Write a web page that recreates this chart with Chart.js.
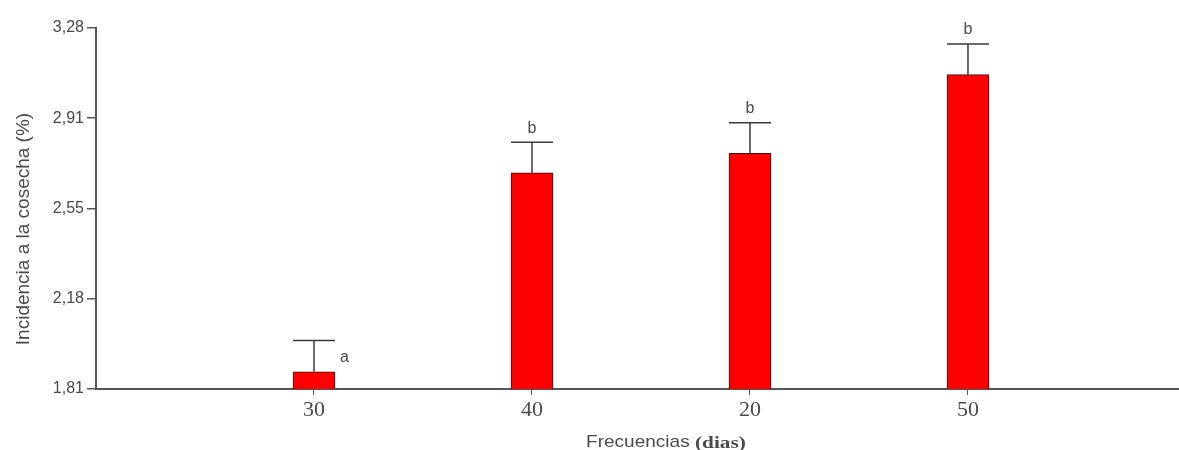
<!DOCTYPE html>
<html>
<head>
<meta charset="utf-8">
<script src="https://cdn.jsdelivr.net/npm/chart.js@4.4.1/dist/chart.umd.min.js"></script>
<style>
  html, body { margin: 0; padding: 0; background: #ffffff; }
  #wrap { width: 1179px; height: 450px; position: relative; }
</style>
</head>
<body>
<div id="wrap"><canvas id="c"></canvas></div>
<script>
// Harvest incidence by spraying frequency (days)
const categories = ['30', '40', '20', '50'];
const means = [1.88, 2.69, 2.77, 3.09];
const errors = [0.128, 0.125, 0.124, 0.125];
const letters = ['a', 'b', 'b', 'b'];
const yTickValues = [1.81, 2.1775, 2.545, 2.9125, 3.28];
const yTickLabels = ['1,81', '2,18', '2,55', '2,91', '3,28'];

const AXIS = '#555555';
const TEXT = '#4a4a4a';

// Error bars (upper only) and significance letters
const errorBarPlugin = {
  id: 'errorBars',
  afterDatasetsDraw(chart) {
    const ctx = chart.ctx;
    const meta = chart.getDatasetMeta(0);
    const y = chart.scales.y;
    ctx.save();
    meta.data.forEach((bar, i) => {
      const half = bar.width / 2;
      const top = y.getPixelForValue(means[i]);
      const cap = y.getPixelForValue(means[i] + errors[i]);
      ctx.strokeStyle = '#3a3a3a';
      ctx.lineWidth = 1.5;
      ctx.beginPath();
      ctx.moveTo(bar.x, top);
      ctx.lineTo(bar.x, cap);
      ctx.moveTo(bar.x - half, cap);
      ctx.lineTo(bar.x + half, cap);
      ctx.stroke();

      ctx.fillStyle = TEXT;
      ctx.font = '16px "Liberation Sans", Arial, sans-serif';
      if (i === 0) {
        ctx.textAlign = 'left';
        ctx.textBaseline = 'middle';
        ctx.fillText(letters[i], bar.x + half + 5, (top + cap) / 2 + 2);
      } else {
        ctx.textAlign = 'center';
        ctx.textBaseline = 'bottom';
        ctx.fillText(letters[i], bar.x, cap - 6);
      }
    });
    ctx.restore();
  },
  afterDraw(chart) {
    const ctx = chart.ctx;
    ctx.save();
    ctx.fillStyle = TEXT;
    // y-axis title
    ctx.translate(24, 229);
    ctx.rotate(-Math.PI / 2);
    ctx.font = '19px "Liberation Sans", Arial, sans-serif';
    ctx.textAlign = 'center';
    ctx.textBaseline = 'middle';
    ctx.fillText('Incidencia a la cosecha (%)', 0, 0);
    ctx.restore();

    // x-axis title: sans word followed by serif unit
    ctx.save();
    ctx.fillStyle = TEXT;
    ctx.textBaseline = 'alphabetic';
    ctx.textAlign = 'left';
    ctx.translate(586, 447);
    ctx.scale(1.12, 1);
    ctx.font = '17px "Liberation Sans", Arial, sans-serif';
    ctx.fillText('Frecuencias', 0, 0);
    ctx.restore();

    ctx.save();
    ctx.fillStyle = TEXT;
    ctx.textBaseline = 'alphabetic';
    ctx.textAlign = 'left';
    ctx.translate(695, 448);
    ctx.scale(1.25, 1);
    ctx.font = 'bold 17px "Liberation Serif", "Times New Roman", serif';
    ctx.fillText('(dias)', 0, 0);
    ctx.restore();
  }
};

new Chart(document.getElementById('c'), {
  type: 'bar',
  data: {
    datasets: [{
      data: means.map((v, i) => ({ x: i + 1, y: v })),
      backgroundColor: '#ff0000',
      borderColor: '#3a1010',
      borderWidth: 1,
      borderSkipped: 'bottom',
      barThickness: 42
    }]
  },
  options: {
    responsive: true,
    maintainAspectRatio: false,
    animation: false,
    layout: { padding: { top: 28, right: 0, bottom: 0, left: 0 } },
    plugins: { legend: { display: false }, tooltip: { enabled: false } },
    scales: {
      x: {
        type: 'linear',
        offset: false,
        min: 0,
        max: 4.968,
        afterBuildTicks: s => { s.ticks = categories.map((c, i) => ({ value: i + 1 })); },
        afterFit: s => { s.height = 61; },
        ticks: {
          callback: v => categories[v - 1] || '',
          color: TEXT,
          font: { family: '"Liberation Serif", "Times New Roman", serif', size: 22 },
          padding: 2,
          maxRotation: 0,
          autoSkip: false
        },
        grid: { display: true, offset: false, drawOnChartArea: false, drawTicks: true, tickLength: 6, color: AXIS, lineWidth: 1 },
        border: { display: true, color: AXIS, width: 2 }
      },
      y: {
        min: 1.81,
        max: 3.28,
        afterBuildTicks: s => { s.ticks = yTickValues.map(v => ({ value: v })); },
        afterFit: s => { s.width = 96; },
        ticks: {
          callback: (v, i) => yTickLabels[i],
          color: TEXT,
          font: { family: '"Liberation Sans", Arial, sans-serif', size: 16 },
          padding: 3,
          autoSkip: false
        },
        grid: { display: true, drawOnChartArea: false, drawTicks: true, tickLength: 9, color: AXIS, lineWidth: 1.5 },
        border: { display: true, color: AXIS, width: 2 }
      }
    }
  },
  plugins: [errorBarPlugin]
});
</script>
</body>
</html>
